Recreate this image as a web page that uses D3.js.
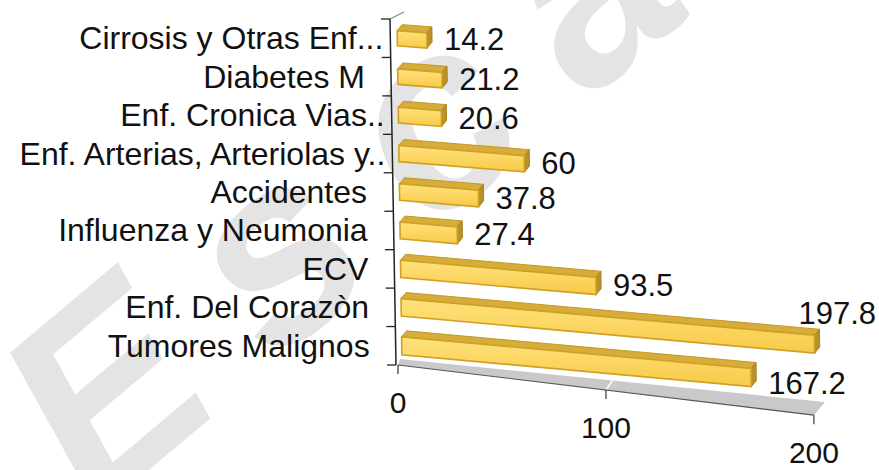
<!DOCTYPE html>
<html>
<head>
<meta charset="utf-8">
<script src="https://cdn.jsdelivr.net/npm/d3@7"></script>
<style>
  html, body { margin: 0; padding: 0; background: #ffffff; }
  svg { display: block; }
  text { font-family: "Liberation Sans", Arial, sans-serif; }
</style>
</head>
<body>
<svg id="chart" width="879" height="470"></svg>
<script>
// ---- data ----
const categories = [
  "Cirrosis y Otras Enf...",
  "Diabetes M",
  "Enf. Cronica Vias..",
  "Enf. Arterias, Arteriolas y..",
  "Accidentes",
  "Influenza y Neumonia",
  "ECV",
  "Enf. Del Corazòn",
  "Tumores Malignos"
];
const values = [14.2, 21.2, 20.6, 60, 37.8, 27.4, 93.5, 197.8, 167.2];
const valueTicks = [0, 100, 200];
const watermarkText = "Escaneado";

// ---- layout ----
const W = 879, H = 470;
const svg = d3.select("#chart");

const x = d3.scaleLinear().domain([0, 200]).range([0, 418]);
const band = d3.scaleBand().domain(categories).range([0, 346]);
const top0 = 19;
const plotH = 346;

// pseudo-3D projection of (value, vertical position in band space)
function P(v, b) {
  const t = b / plotH;
  const xs = x(v);
  return [397 + 5 * t + xs, top0 + b + xs * (0.075 + 0.017 * t)];
}
function axisX(b) { return 390 + 6 * (b / plotH); }
function floorFront(v) { const xs = x(v); return [398 + xs * 0.995, 365 + xs * 0.12]; }
function floorBack(v) { const xs = x(v); return [400 + xs * 1.0167, 359 + xs * 0.103]; }
const depth = [5, -6];
const add = (p, d) => [p[0] + d[0], p[1] + d[1]];
const poly = pts => "M" + pts.map(p => p[0].toFixed(2) + "," + p[1].toFixed(2)).join("L") + "Z";

// ---- watermark ----
svg.append("text")
  .attr("transform", "translate(95,515) rotate(-40)")
  .attr("font-family", "Liberation Serif, serif")
  .attr("font-style", "italic")
  .attr("font-weight", "bold")
  .attr("font-size", 260)
  .attr("letter-spacing", 60)
  .attr("fill", "#e4e4e4")
  .text(watermarkText);

// ---- gradient ----
const defs = svg.append("defs");
const grad = defs.append("linearGradient").attr("id", "barFront")
  .attr("x1", 0).attr("y1", 0).attr("x2", 0).attr("y2", 1);
grad.append("stop").attr("offset", "0%").attr("stop-color", "#FFE27C");
grad.append("stop").attr("offset", "100%").attr("stop-color", "#F8CA48");

// ---- floor ----
const fl = svg.append("g");
fl.append("path")
  .attr("d", poly([floorFront(0), floorFront(200), floorBack(200), floorBack(0)]))
  .attr("fill", "#c9c9c9");
fl.append("line")
  .attr("x1", floorFront(100)[0]).attr("y1", floorFront(100)[1])
  .attr("x2", floorBack(100)[0]).attr("y2", floorBack(100)[1])
  .attr("stroke", "#ffffff").attr("stroke-width", 1.5);
fl.append("line")
  .attr("x1", floorFront(0)[0]).attr("y1", floorFront(0)[1])
  .attr("x2", floorFront(200)[0]).attr("y2", floorFront(200)[1])
  .attr("stroke", "#555").attr("stroke-width", 1.2);

// value ticks + labels
const vt = svg.append("g");
valueTicks.forEach(v => {
  const p = floorFront(v);
  vt.append("line").attr("x1", p[0]).attr("y1", p[1]).attr("x2", p[0]).attr("y2", p[1] + 9)
    .attr("stroke", "#333").attr("stroke-width", 1.2);
  vt.append("text").attr("x", p[0]).attr("y", p[1] + 48)
    .attr("text-anchor", "middle").attr("font-size", 30).attr("fill", "#111")
    .text(d3.format("d")(v));
});

// ---- category axis ----
const ax = svg.append("g");
ax.append("line").attr("x1", axisX(0)).attr("y1", top0).attr("x2", axisX(plotH)).attr("y2", top0 + plotH)
  .attr("stroke", "#222").attr("stroke-width", 1.5);
ax.append("line").attr("x1", axisX(0)).attr("y1", top0).attr("x2", axisX(0) + 14).attr("y2", top0 - 7)
  .attr("stroke", "#666").attr("stroke-width", 1);
const edges = categories.map(c => band(c)).concat([plotH]);
edges.forEach(b => {
  ax.append("line").attr("x1", axisX(b) - 9).attr("y1", top0 + b).attr("x2", axisX(b)).attr("y2", top0 + b)
    .attr("stroke", "#222").attr("stroke-width", 1.3);
});
categories.forEach(c => {
  const bc = band(c) + band.bandwidth() / 2;
  const truncated = /\.\.$/.test(c);
  ax.append("text")
    .attr("x", axisX(bc) - (truncated ? 7 : 26))
    .attr("y", top0 + bc + 11)
    .attr("text-anchor", "end")
    .attr("font-size", 32)
    .attr("fill", "#111")
    .text(c);
});

// ---- bars ----
const bars = svg.append("g");
categories.forEach((c, i) => {
  const v = values[i];
  const bc = band(c) + band.bandwidth() / 2;
  const th = 15 + 3 * (bc / plotH);
  const b1 = bc - th / 2, b2 = bc + th / 2;
  const fl0 = P(0, b1), fr0 = P(v, b1), fr1 = P(v, b2), fl1 = P(0, b2);
  const g = bars.append("g");
  g.append("path").attr("d", poly([fl0, fr0, add(fr0, depth), add(fl0, depth)]))
    .attr("fill", "#D6AC3A").attr("stroke", "#C39A22").attr("stroke-width", 1);
  g.append("path").attr("d", poly([fr0, add(fr0, depth), add(fr1, depth), fr1]))
    .attr("fill", "#B9912C").attr("stroke", "#A8841F").attr("stroke-width", 1);
  g.append("path").attr("d", poly([fl0, fr0, fr1, fl1]))
    .attr("fill", "url(#barFront)").attr("stroke", "#CFA024").attr("stroke-width", 1.6);
});

// ---- value labels ----
const lab = svg.append("g");
categories.forEach((c, i) => {
  const v = values[i];
  const bc = band(c) + band.bandwidth() / 2;
  const end = P(v, bc);
  const t = lab.append("text").attr("font-size", 31).attr("fill", "#111").text(String(v));
  const w = t.node().getComputedTextLength();
  if (end[0] + 17 + w > W - 2) {
    t.attr("x", W - 3).attr("y", end[1] - 20).attr("text-anchor", "end");
  } else {
    t.attr("x", end[0] + 17).attr("y", end[1] + 10 + (i === values.length - 1 ? 6 : 0));
  }
});
</script>
</body>
</html>
